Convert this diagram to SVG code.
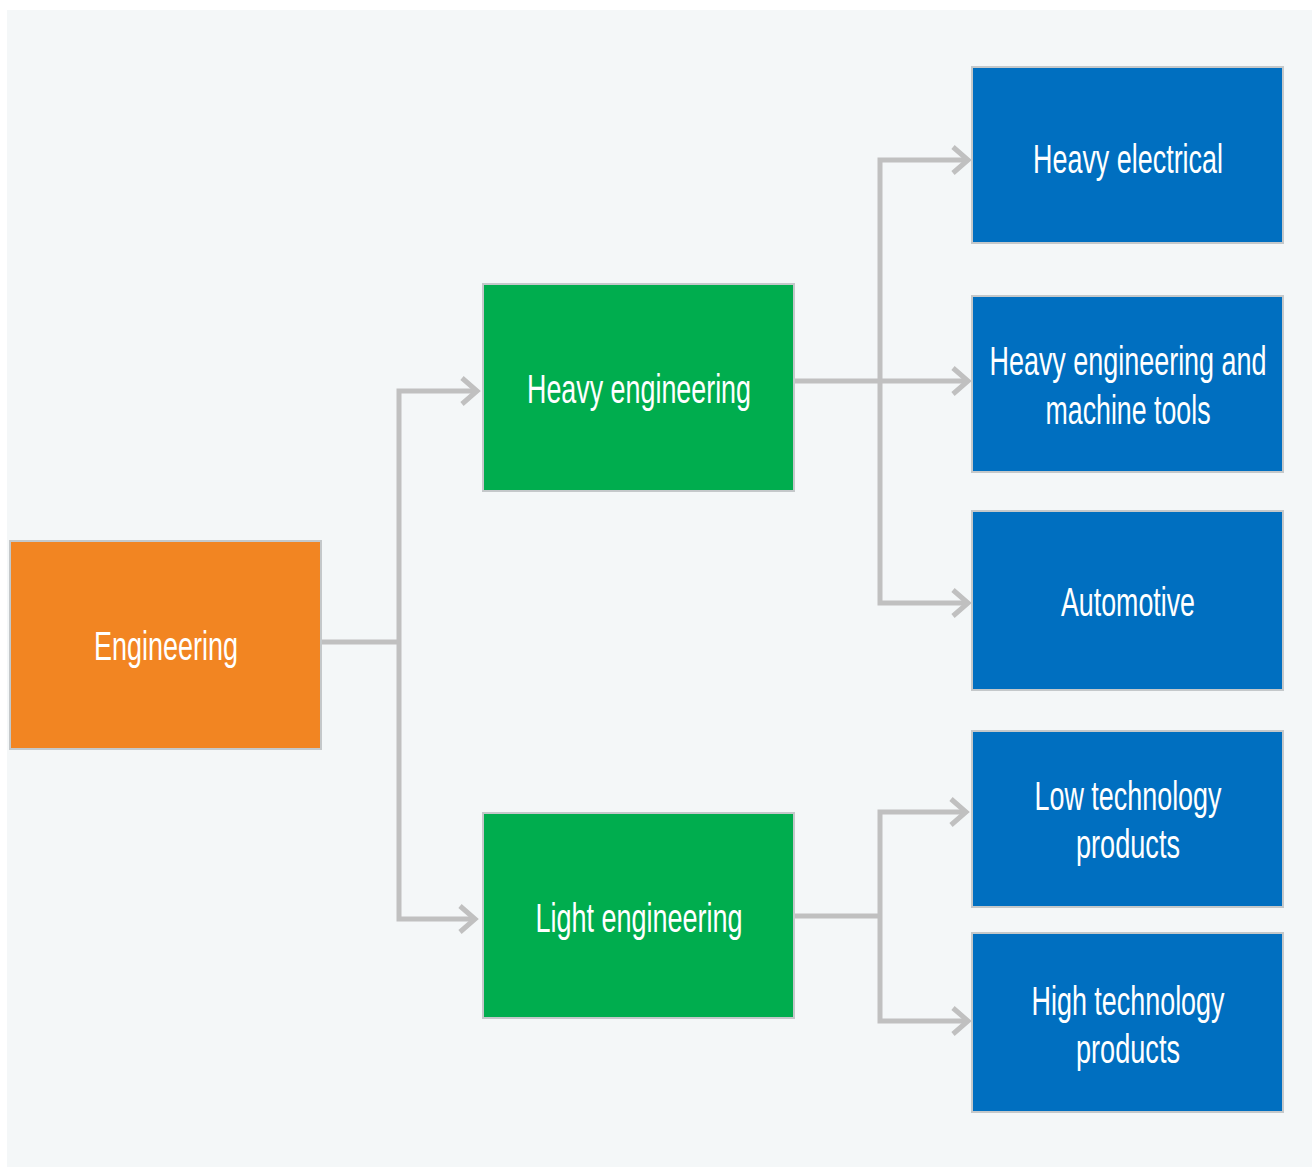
<svg xmlns="http://www.w3.org/2000/svg" width="1314" height="1167" viewBox="0 0 1314 1167">
<defs>
<style>
.bg{fill:#f4f7f8}
.n{stroke:#c4c8ca;stroke-width:2}
.o{fill:#f28522}
.g{fill:#00ad4e}
.b{fill:#006fc0}
.t{font-family:"Liberation Sans",Arial,sans-serif;font-size:41px;fill:#ffffff;text-anchor:middle}
.c{fill:none;stroke:#c0c0c0;stroke-width:5}
</style>
<marker id="ar" markerUnits="userSpaceOnUse" viewBox="-18 -16 22 32" refX="0" refY="0" markerWidth="22" markerHeight="32" orient="auto">
<path d="M-15,-13 L0,0 L-15,13" fill="none" stroke="#c0c0c0" stroke-width="5"/>
</marker>
</defs>
<rect width="1314" height="1167" fill="#ffffff"/>
<rect class="bg" x="7" y="10" width="1305" height="1157"/>
<g id="connectors">
<path class="c" d="M321,642 H399"/>
<path class="c" d="M399,642 V391 H477" marker-end="url(#ar)"/>
<path class="c" d="M399,642 V919 H475" marker-end="url(#ar)"/>
<path class="c" d="M794,381 H968" marker-end="url(#ar)"/>
<path class="c" d="M880,381 V160 H968" marker-end="url(#ar)"/>
<path class="c" d="M880,381 V603 H968" marker-end="url(#ar)"/>
<path class="c" d="M794,916 H880"/>
<path class="c" d="M880,916 V812 H966" marker-end="url(#ar)"/>
<path class="c" d="M880,916 V1021 H968" marker-end="url(#ar)"/>
</g>
<g id="engineering"><rect class="n o" x="10" y="541" width="311" height="208"/><text class="t" x="166" y="660" textLength="144" lengthAdjust="spacingAndGlyphs">Engineering</text></g>
<g id="heavy-engineering"><rect class="n g" x="483" y="284" width="311" height="207"/><text class="t" x="639" y="403" textLength="224" lengthAdjust="spacingAndGlyphs">Heavy engineering</text></g>
<g id="light-engineering"><rect class="n g" x="483" y="813" width="311" height="205"/><text class="t" x="639" y="932" textLength="207" lengthAdjust="spacingAndGlyphs">Light engineering</text></g>
<g id="heavy-electrical"><rect class="n b" x="972" y="67" width="311" height="176"/><text class="t" x="1128" y="173" textLength="190" lengthAdjust="spacingAndGlyphs">Heavy electrical</text></g>
<g id="heavy-engineering-machine-tools"><rect class="n b" x="972" y="296" width="311" height="176"/><text class="t" x="1128" y="375" textLength="277" lengthAdjust="spacingAndGlyphs">Heavy engineering and</text><text class="t" x="1128" y="424" textLength="165" lengthAdjust="spacingAndGlyphs">machine tools</text></g>
<g id="automotive"><rect class="n b" x="972" y="511" width="311" height="179"/><text class="t" x="1128" y="616" textLength="134" lengthAdjust="spacingAndGlyphs">Automotive</text></g>
<g id="low-technology"><rect class="n b" x="972" y="731" width="311" height="176"/><text class="t" x="1128" y="810" textLength="187" lengthAdjust="spacingAndGlyphs">Low technology</text><text class="t" x="1128" y="858" textLength="104" lengthAdjust="spacingAndGlyphs">products</text></g>
<g id="high-technology"><rect class="n b" x="972" y="933" width="311" height="179"/><text class="t" x="1128" y="1015" textLength="193" lengthAdjust="spacingAndGlyphs">High technology</text><text class="t" x="1128" y="1063" textLength="104" lengthAdjust="spacingAndGlyphs">products</text></g>
</svg>
